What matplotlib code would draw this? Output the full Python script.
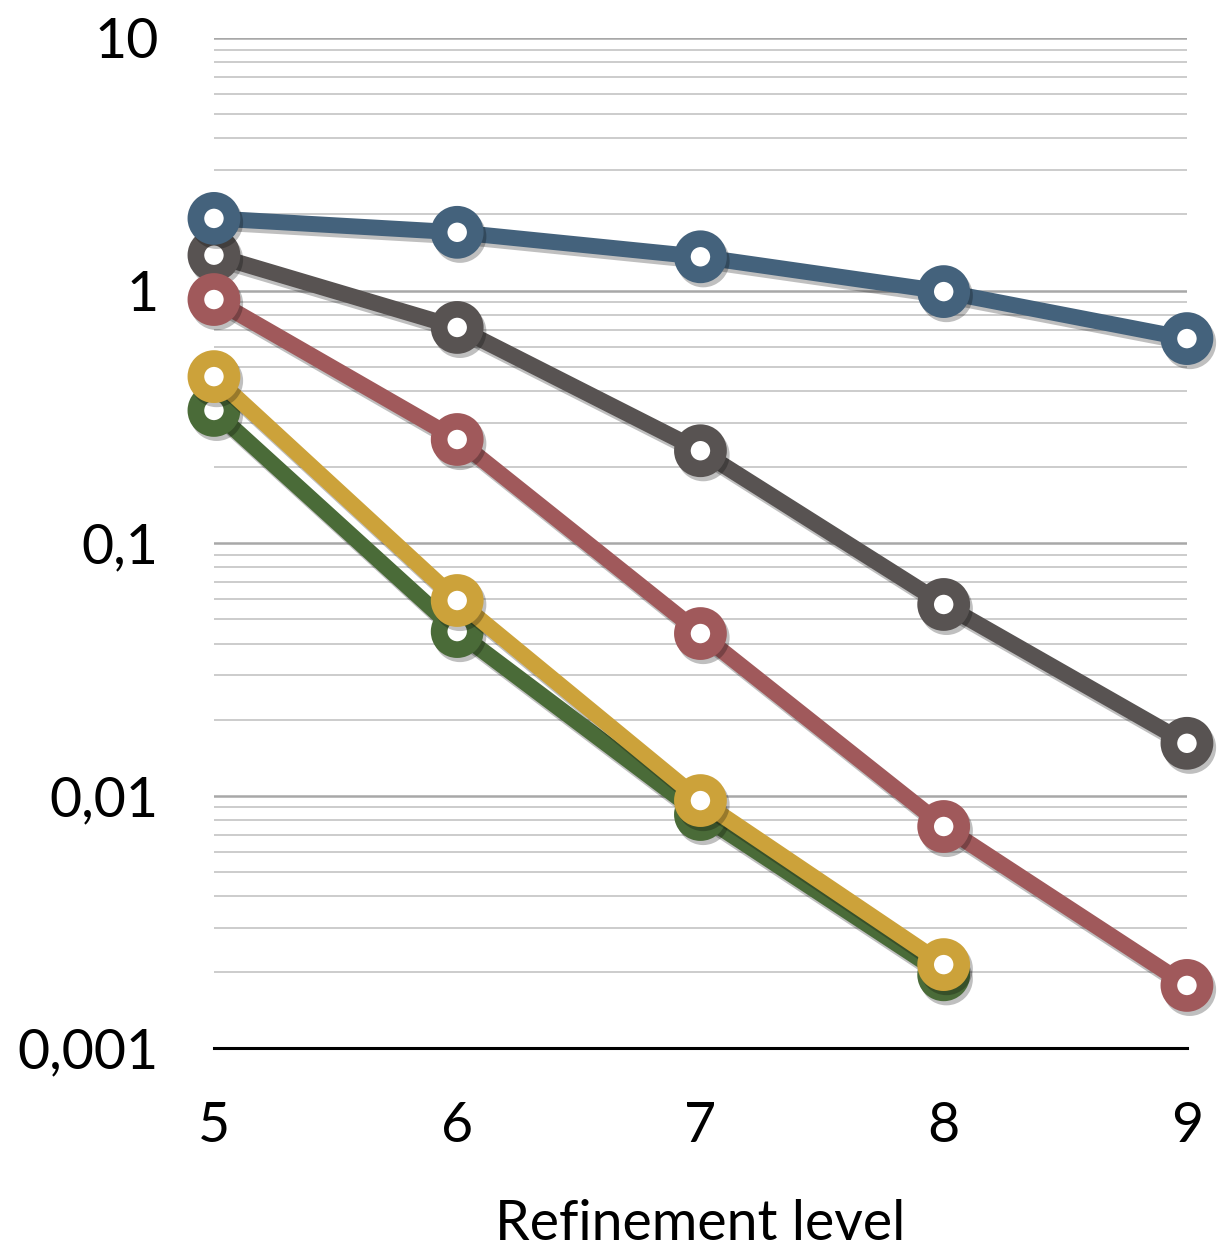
#Convergence of error vs refinement level, log scale
import numpy as np
import matplotlib.pyplot as plt
import matplotlib.patheffects as pe

#Data
levels = [5, 6, 7, 8, 9]
blue_vals = [1.93, 1.70, 1.36, 0.99, 0.645]
gray_vals = [1.38, 0.714, 0.232, 0.0571, 0.0161]
red_vals = [0.921, 0.257, 0.0438, 0.00754, 0.00177]
yellow_vals = [0.456, 0.0592, 0.00955, 0.00214]
green_vals = [0.335, 0.0446, 0.00841, 0.00195]

ytick_vals = [0.001, 0.01, 0.1, 1, 10]
ytick_labels = ['0,001', '0,01', '0,1', '1', '10']

plt.rcParams['font.family'] = ['Lato', 'DejaVu Sans']

fig = plt.figure(figsize=(12.17, 12.58), dpi=100)
ax = fig.add_axes([0.1758, 0.1669, 0.7995, 0.8029])

shadow = [pe.SimpleLineShadow(offset=(2, -3), shadow_color='k', alpha=0.25), pe.Normal()]

series = [
    (levels[:4], green_vals, '#4a6b38'),
    (levels[:4], yellow_vals, '#cca23a'),
    (levels, gray_vals, '#585352'),
    (levels, blue_vals, '#44627c'),
    (levels, red_vals, '#a0595b'),
]
for z, (xs, ys, col) in enumerate(series):
    ax.plot(xs, ys, color=col, lw=11.5, marker='o', ms=26, mew=12,
            mfc='white', mec=col, clip_on=False, zorder=3 + z,
            path_effects=shadow)

ax.set_yscale('log')
ax.set_ylim(0.001, 10)
ax.set_xlim(5, 9)

#Gridlines: major and minor horizontal only
ax.yaxis.grid(True, which='major', color='#a8a8a8', lw=1.8)
ax.yaxis.grid(True, which='minor', color='#c4c4c4', lw=1.2)
ax.xaxis.grid(False)
ax.set_axisbelow(True)

ax.set_yticks(ytick_vals)
ax.set_yticklabels(ytick_labels)
ax.set_xticks(levels)
ax.set_xticklabels([str(v) for v in levels])
ax.tick_params(axis='y', which='both', length=0, labelsize=40, pad=40)
ax.tick_params(axis='x', which='both', length=0, labelsize=40, pad=38)

for side in ['left', 'right', 'top']:
    ax.spines[side].set_visible(False)
ax.spines['bottom'].set_color('black')
ax.spines['bottom'].set_linewidth(2.2)
ax.spines['bottom'].set_zorder(2)

ax.set_xlabel('Refinement level', fontsize=40, labelpad=34)

plt.savefig('out.png', dpi=100)
